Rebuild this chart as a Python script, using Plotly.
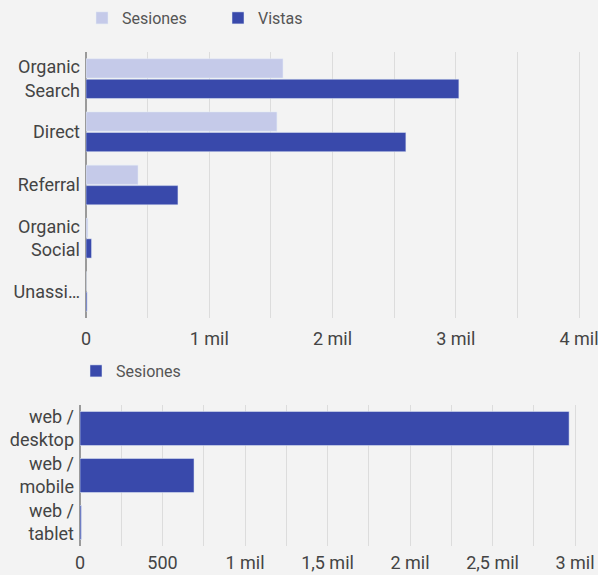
import plotly.graph_objects as go

# Top chart data
channels = ["Organic<br>Search", "Direct", "Referral", "Organic<br>Social", "Unassi…"]
sesiones_canal = [1598, 1549, 422, 15, 2]
vistas_canal = [3025, 2595, 746, 45, 9]
top_tickvals = [0, 500, 1000, 1500, 2000, 2500, 3000, 3500, 4000]
top_ticktext = ["0", "", "1 mil", "", "2 mil", "", "3 mil", "", "4 mil"]

# Bottom chart data
devices = ["web /<br>desktop", "web /<br>mobile", "web /<br>tablet"]
sesiones_disp = [2964, 691, 8]
bot_tickvals = [0, 250, 500, 750, 1000, 1250, 1500, 1750, 2000, 2250, 2500, 2750, 3000]
bot_ticktext = ["0", "", "500", "", "1 mil", "", "1,5 mil", "", "2 mil", "", "2,5 mil", "", "3 mil"]

LIGHT = "#c5cae9"
DARK = "#3949ab"
BG = "#f3f3f3"
TXT = "#444444"
FONT = "Roboto"

W, H = 598, 575
def px(x):
    return x / W
def py(y):
    return 1 - y / H

fig = go.Figure()
fig.add_trace(go.Bar(y=channels, x=sesiones_canal, name="Sesiones", orientation="h",
                     marker_color=LIGHT, xaxis="x", yaxis="y", legend="legend"))
fig.add_trace(go.Bar(y=channels, x=vistas_canal, name="Vistas", orientation="h",
                     marker_color=DARK, xaxis="x", yaxis="y", legend="legend"))
fig.add_trace(go.Bar(y=devices, x=sesiones_disp, name="Sesiones", orientation="h",
                     marker_color=DARK, xaxis="x2", yaxis="y2", legend="legend2"))

axis_common = dict(showgrid=True, gridcolor="#dcdcdc", gridwidth=1,
                   zeroline=True, zerolinecolor="#9a9a9a", zerolinewidth=2,
                   ticks="", ticklabeloverflow="allow",
                   tickfont=dict(family=FONT, size=18, color=TXT),
                   fixedrange=True, automargin=False)
yaxis_common = dict(showgrid=False, ticks="", ticklabelstandoff=5, automargin=False,
                    autorange="reversed", fixedrange=True,
                    tickfont=dict(family=FONT, size=18, color=TXT))

fig.update_layout(
    width=W, height=H,
    margin=dict(l=0, r=0, t=0, b=0, autoexpand=False),
    paper_bgcolor=BG, plot_bgcolor=BG,
    barmode="group", bargap=0.23, bargroupgap=0.06,
    font=dict(family=FONT, color=TXT),
    xaxis=dict(domain=[px(86), px(584)], range=[0, 4040], anchor="y",
               tickmode="array", tickvals=top_tickvals, ticktext=top_ticktext,
               ticklabelstandoff=8, **axis_common),
    yaxis=dict(domain=[py(318), py(52)], anchor="x", **yaxis_common),
    xaxis2=dict(domain=[px(80), px(580)], range=[0, 3030], anchor="y2",
                tickmode="array", tickvals=bot_tickvals, ticktext=bot_ticktext,
                ticklabelstandoff=4, **axis_common),
    yaxis2=dict(domain=[py(546), py(405)], anchor="x2", **yaxis_common),
    legend=dict(orientation="h", x=px(82), y=py(1), xanchor="left", yanchor="top",
                font=dict(family=FONT, size=16, color="#555555"),
                entrywidth=91, entrywidthmode="pixels", bgcolor="rgba(0,0,0,0)"),
    legend2=dict(orientation="h", x=px(76), y=py(354), xanchor="left", yanchor="top",
                 font=dict(family=FONT, size=16, color="#555555"),
                 bgcolor="rgba(0,0,0,0)"),
)

fig.write_html("out.html", config={"displayModeBar": False},
               post_script="document.body.style.margin='0';document.body.style.padding='0';")
